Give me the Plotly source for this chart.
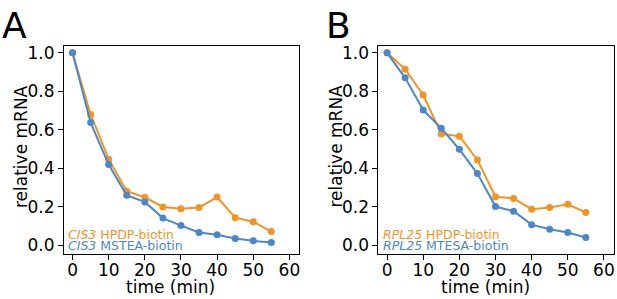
import plotly.graph_objects as go

time = [0, 5, 10, 15, 20, 25, 30, 35, 40, 45, 50, 55]
a_hpdp = [1.0, 0.68, 0.448, 0.282, 0.25, 0.20, 0.19, 0.197, 0.251, 0.144, 0.123, 0.072]
a_mtsea = [1.0, 0.638, 0.42, 0.26, 0.226, 0.142, 0.103, 0.067, 0.055, 0.036, 0.024, 0.015]
b_hpdp = [1.0, 0.915, 0.781, 0.579, 0.567, 0.444, 0.253, 0.244, 0.188, 0.197, 0.214, 0.171]
b_mtesa = [1.0, 0.87, 0.703, 0.609, 0.499, 0.373, 0.202, 0.178, 0.108, 0.084, 0.067, 0.041]

xticks = [0, 10, 20, 30, 40, 50, 60]
yticks = [0.0, 0.2, 0.4, 0.6, 0.8, 1.0]
ytick_text = ["0.0", "0.2", "0.4", "0.6", "0.8", "1.0"]

ORANGE = "#F29424"
BLUE = "#4A88C9"
FONT = "DejaVu Sans"

fig = go.Figure()

def add(x, y, color, xa, ya):
    fig.add_trace(go.Scatter(x=x, y=y, mode="lines+markers",
                             line=dict(color=color, width=2),
                             marker=dict(color=color, size=7),
                             xaxis=xa, yaxis=ya, showlegend=False, cliponaxis=False))

add(time, a_hpdp, ORANGE, "x", "y")
add(time, a_mtsea, BLUE, "x", "y")
add(time, b_hpdp, ORANGE, "x2", "y2")
add(time, b_mtesa, BLUE, "x2", "y2")

xcommon = dict(range=[-2.4, 62.8], tickvals=xticks, ticks="outside", ticklen=5,
               tickwidth=1, tickcolor="black", showline=True, linecolor="black",
               linewidth=1, mirror=True, showgrid=False, zeroline=False,
               ticklabelstandoff=-4,
               tickfont=dict(family=FONT, size=17, color="black"))
ycommon = dict(range=[-0.043, 1.034], tickvals=yticks, ticktext=ytick_text, ticks="outside",
               ticklen=5, tickwidth=1, tickcolor="black", showline=True, linecolor="black",
               linewidth=1, mirror=True, showgrid=False, zeroline=False,
               tickfont=dict(family=FONT, size=17, color="black"))

fig.update_layout(
    width=617, height=299,
    margin=dict(l=0, r=0, t=0, b=0),
    paper_bgcolor="white", plot_bgcolor="white",
    xaxis=dict(domain=[0.1037, 0.4862], anchor="y", **xcommon),
    yaxis=dict(domain=[0.1472, 0.8528], anchor="x", **ycommon),
    xaxis2=dict(domain=[0.6143, 0.9968], anchor="y2", **xcommon),
    yaxis2=dict(domain=[0.1472, 0.8528], anchor="x2", **ycommon),
)

def txt(text, x, y, xref, yref, size, color="black", xanchor="left", yanchor="middle", angle=0):
    return dict(text=text, x=x, y=y, xref=xref, yref=yref, xanchor=xanchor, yanchor=yanchor,
                showarrow=False, textangle=angle, font=dict(family=FONT, size=size, color=color))

anns = [
    txt("A", 0.0, 1.0, "paper", "paper", 36, yanchor="top"),
    txt("B", 325/617, 1.0, "paper", "paper", 36, yanchor="top"),
    txt("time (min)", 27.2, 10/299, "x", "paper", 17, xanchor="center"),
    txt("time (min)", 27.2, 10/299, "x2", "paper", 17, xanchor="center"),
    txt("relative mRNA", 21/617, 0.516, "paper", "y", 17, xanchor="center", angle=-90),
    txt("relative mRNA", 337/617, 0.516, "paper", "y2", 17, xanchor="center", angle=-90),
    txt("<i>CIS3</i> HPDP-biotin", -1.7, 0.057, "x", "y", 12.5, ORANGE),
    txt("<i>CIS3</i> MSTEA-biotin", -1.7, 0.0, "x", "y", 12.5, BLUE),
    txt("<i>RPL25</i> HPDP-biotin", -1.7, 0.057, "x2", "y2", 12.5, ORANGE),
    txt("<i>RPL25</i> MTESA-biotin", -1.7, 0.0, "x2", "y2", 12.5, BLUE),
]
fig.update_layout(annotations=anns)

fig.write_html("out.html", config={"displayModeBar": False},
               post_script="document.body.style.margin='0';")
